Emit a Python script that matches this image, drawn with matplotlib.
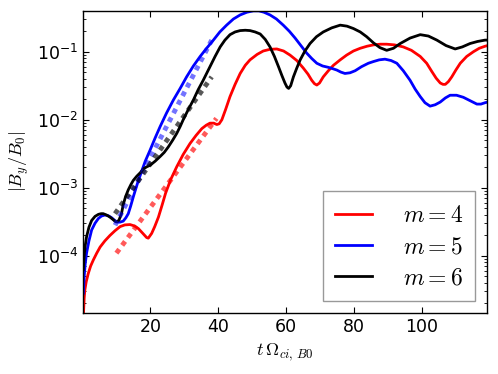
import numpy as np
import matplotlib
matplotlib.use("Agg")
import matplotlib.pyplot as plt

# ---- data (log10 |B_y/B_0|) ----
t_m4 = [0.25, 0.5, 0.7, 1.1, 1.7, 2.4, 3.2, 4.2, 5.2, 6.6, 8.1, 9.6, 11.1, 12.5, 14, 15.3, 16.5, 17.8,
        18.9, 19.4, 20.4, 21.3, 22.4, 23.5, 24.5, 26, 27.8, 29.7, 31.7, 33.5, 35.2, 36.5, 37.6, 38.7,
        39.6, 40.3, 41.1, 42.2, 43.5, 45, 46.5, 48, 49.4, 51.5, 53.3, 55.3, 57.3, 59.3, 61.2, 63.2,
        65.1, 66.5, 67.6, 68.4, 69.1, 69.9, 71, 72.5, 74, 76, 77.9, 79.9, 81.9, 83.9, 85.8, 87.8,
        89.7, 92, 94.6, 97, 99.6, 101.5, 103, 104.3, 105.5, 106.3, 107, 107.9, 108.9, 110.1, 111.4,
        113.3, 115.3, 117, 118.7, 119.5]
logB_m4 = [-4.9, -4.62, -4.5, -4.38, -4.26, -4.15, -4.06, -3.96, -3.87, -3.78, -3.70, -3.63, -3.57,
           -3.545, -3.54, -3.56, -3.60, -3.67, -3.73, -3.74, -3.67, -3.57, -3.43, -3.25, -3.08, -2.88,
           -2.69, -2.51, -2.35, -2.23, -2.13, -2.08, -2.05, -2.05, -2.07, -2.06, -2.0, -1.85, -1.66,
           -1.48, -1.32, -1.2, -1.12, -1.04, -0.99, -0.965, -0.96, -0.99, -1.05, -1.13, -1.24, -1.33,
           -1.42, -1.47, -1.49, -1.46, -1.37, -1.28, -1.20, -1.12, -1.05, -0.99, -0.95, -0.92, -0.90,
           -0.89, -0.89, -0.90, -0.93, -0.98, -1.07, -1.17, -1.29, -1.39, -1.46, -1.48, -1.48, -1.44,
           -1.37, -1.27, -1.17, -1.07, -1.0, -0.95, -0.92, -0.91]

t_m5 = [0.25, 0.5, 0.8, 1.2, 1.9, 2.7, 3.7, 4.7, 5.6, 6.6, 7.6, 8.6, 9.4, 10.1, 11, 12, 12.8, 13.5,
        14.2, 15, 15.8, 16.5, 17.5, 18.5, 19.9, 21.4, 22.9, 24.8, 26.8, 28.8, 30.7, 32.7, 34.7, 36.6,
        38.6, 40.5, 42.5, 44.5, 46.5, 48.5, 50.4, 52, 53.5, 55.3, 57.2, 59.2, 61, 62.7, 64.4, 66.1,
        67.6, 69.1, 70.8, 72.5, 73.8, 75, 76.2, 77.4, 78.9, 80.4, 82.3, 84.3, 85.8, 87.5, 89.2, 91,
        92.7, 94.6, 96.6, 98.1, 99.6, 101, 102.5, 104, 105.5, 107, 108.4, 110.3, 112.3, 114.3, 116.3,
        117.5, 118.7, 119.5]
logB_m5 = [-4.55, -4.3, -4.12, -3.96, -3.78, -3.62, -3.52, -3.45, -3.415, -3.40, -3.41, -3.44, -3.475,
           -3.50, -3.505, -3.49, -3.44, -3.38, -3.27, -3.13, -3.0, -2.89, -2.75, -2.61, -2.45, -2.27,
           -2.10, -1.9, -1.71, -1.54, -1.37, -1.21, -1.07, -0.95, -0.83, -0.71, -0.61, -0.52, -0.46,
           -0.42, -0.40, -0.40, -0.42, -0.46, -0.52, -0.61, -0.70, -0.80, -0.91, -1.02, -1.10, -1.17,
           -1.21, -1.23, -1.25, -1.27, -1.30, -1.32, -1.31, -1.28, -1.22, -1.17, -1.145, -1.12, -1.11,
           -1.13, -1.17, -1.28, -1.42, -1.55, -1.66, -1.75, -1.80, -1.78, -1.74, -1.68, -1.64, -1.64,
           -1.67, -1.72, -1.77, -1.77, -1.75, -1.74]

t_m6 = [0.25, 0.5, 0.8, 1.2, 1.9, 2.7, 3.7, 4.7, 5.5, 6.1, 7.1, 8.1, 9.1, 9.8, 10.3, 10.8, 11.5, 12,
        12.7, 13.5, 14.3, 15, 16, 17, 18, 19, 19.9, 21.4, 22.9, 24.1, 25.3, 26.6, 27.8, 28.8, 29.7,
        31.2, 32.7, 34.1, 35.6, 36.6, 37.6, 39.1, 40.6, 42, 43.5, 45, 46.5, 48, 49.4, 50.9, 52.4,
        53.9, 55.3, 56.6, 57.8, 58.8, 59.7, 60.3, 60.8, 61.4, 62.2, 63.2, 64.2, 65.6, 67.1, 69, 71,
        73.5, 76, 78, 79.9, 81.9, 83.8, 85.8, 87.7, 89.7, 91.7, 93.7, 96.6, 99.6, 102, 104.5, 107.2,
        109.9, 112, 114.3, 116.5, 118.7, 119.5]
logB_m6 = [-4.2, -4.0, -3.85, -3.72, -3.58, -3.48, -3.42, -3.39, -3.38, -3.38, -3.40, -3.43, -3.47,
           -3.50, -3.50, -3.47, -3.38, -3.25, -3.13, -3.03, -2.95, -2.89, -2.83, -2.78, -2.72, -2.69,
           -2.67, -2.61, -2.54, -2.48, -2.40, -2.30, -2.2, -2.10, -2.0, -1.85, -1.71, -1.56, -1.42,
           -1.32, -1.22, -1.07, -0.93, -0.83, -0.75, -0.71, -0.69, -0.685, -0.69, -0.71, -0.74, -0.82,
           -0.93, -1.07, -1.22, -1.35, -1.46, -1.52, -1.54, -1.50, -1.37, -1.24, -1.12, -0.99, -0.88,
           -0.78, -0.71, -0.65, -0.61, -0.625, -0.66, -0.71, -0.78, -0.87, -0.94, -0.98, -0.95, -0.88,
           -0.80, -0.75, -0.77, -0.83, -0.91, -0.96, -0.93, -0.88, -0.85, -0.83, -0.83]

# exponential-growth fits (end points)
fit_t_m4 = [10.0, 39.5]
fit_logB_m4 = [-3.96, -1.98]
fit_t_m5 = [9.6, 38.1]
fit_logB_m5 = [-3.55, -0.83]
fit_t_m6 = [9.6, 38.1]
fit_logB_m6 = [-3.38, -1.37]

labels = ["$m=4$", "$m=5$", "$m=6$"]
colors = ["red", "blue", "black"]
xticks = [20, 40, 60, 80, 100]

plt.rcParams["mathtext.fontset"] = "dejavusans"
plt.rcParams["font.family"] = "DejaVu Sans"

fig = plt.figure(figsize=(4.98, 3.74), dpi=100)
ax = fig.add_axes([0.167, 0.163, 0.811, 0.808])

series = [(t_m4, logB_m4), (t_m5, logB_m5), (t_m6, logB_m6)]
fits = [(fit_t_m4, fit_logB_m4), (fit_t_m5, fit_logB_m5), (fit_t_m6, fit_logB_m6)]
for (t, lb), lab, c in zip(series, labels, colors):
    ax.plot(t, 10 ** np.array(lb), color=c, lw=2.0, label=lab, solid_joinstyle="round")
fit_alpha = [0.65, 0.55, 0.65]
for (t, lb), c, a in zip(fits, colors, fit_alpha):
    ax.plot(t, 10 ** np.array(lb), color=c, lw=3.5, alpha=a, linestyle=(0, (1, 1)),
            dash_capstyle="butt")

ax.set_yscale("log")
ax.set_xlim(0.2, 119.3)
ax.set_ylim(10 ** -4.84, 10 ** -0.40)
ax.set_xticks(xticks)
ax.tick_params(which="both", direction="in", top=True, right=True, labelsize=12.5)
ax.tick_params(which="major", length=4, width=0.8)
ax.tick_params(which="minor", length=2, width=0.6)
for s in ax.spines.values():
    s.set_linewidth(1.0)

xl = ax.set_xlabel(r"$t\,\Omega_{ci,\,B0}$", fontsize=13)
yl = ax.set_ylabel(r"$|B_y/B_0|$", fontsize=13)
xl.set_math_fontfamily("cm")
yl.set_math_fontfamily("cm")

leg = ax.legend(loc="lower right", fontsize=17, fancybox=False, edgecolor="0.5",
                handlelength=1.6, handletextpad=1.3, borderpad=0.5, labelspacing=0.3,
                borderaxespad=0.5)
leg.get_frame().set_linewidth(1.0)
for txt in leg.get_texts():
    txt.set_math_fontfamily("cm")

fig.savefig("out.png", dpi=100)
